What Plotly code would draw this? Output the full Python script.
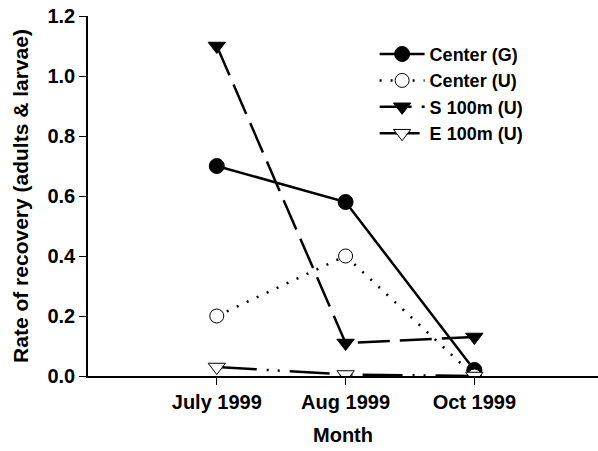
import plotly.graph_objects as go

months = ["July 1999", "Aug 1999", "Oct 1999"]
center_g = [0.70, 0.58, 0.02]
center_u = [0.20, 0.40, 0.00]
s100_u = [1.10, 0.11, 0.13]
e100_u = [0.03, 0.005, 0.00]

y_ticks = [0.0, 0.2, 0.4, 0.6, 0.8, 1.0, 1.2]

FONT = "Liberation Sans, Arial, sans-serif"

fig = go.Figure()

fig.add_trace(go.Scatter(
    x=months, y=center_g, name="<b>Center (G)</b>", mode="lines+markers",
    line=dict(color="black", width=2.5),
    marker=dict(symbol="circle", size=15, color="black",
                line=dict(color="black", width=1)),
))
fig.add_trace(go.Scatter(
    x=months, y=center_u, name="<b>Center (U)</b>", mode="lines+markers",
    line=dict(color="black", width=2.5, dash="2px,9px"),
    marker=dict(symbol="circle", size=14, color="white",
                line=dict(color="black", width=1)),
))
fig.add_trace(go.Scatter(
    x=months, y=s100_u, name="<b>S 100m (U)</b>", mode="lines+markers",
    line=dict(color="black", width=2.5, dash="32px,10px"),
    marker=dict(symbol="triangle-down", size=15, color="black",
                line=dict(color="black", width=1)),
))
fig.add_trace(go.Scatter(
    x=months, y=e100_u, name="<b>E 100m (U)</b>", mode="lines+markers",
    line=dict(color="black", width=2.5, dash="40px,10px,2px,9px,2px,10px"),
    marker=dict(symbol="triangle-down", size=15, color="white",
                line=dict(color="black", width=1)),
))

fig.update_layout(
    width=598, height=451,
    margin=dict(l=88, r=0, t=16, b=75),
    paper_bgcolor="white", plot_bgcolor="white",
    font=dict(family=FONT, color="black", size=18),
    showlegend=True,
    legend=dict(x=0.562, y=0.945, xanchor="left", yanchor="top",
                bgcolor="rgba(0,0,0,0)", font=dict(size=18),
                itemwidth=45, tracegroupgap=0),
    xaxis=dict(
        type="category", range=[-1, 2.96],
        showline=True, linecolor="black", linewidth=1.5,
        ticks="outside", ticklen=7, tickcolor="black", tickwidth=1,
        showgrid=False, zeroline=False,
        tickfont=dict(size=20, family=FONT),
        tickvals=months, ticktext=["<b>%s</b>" % m for m in months],
        title=dict(text="<b>Month</b>", font=dict(size=20), standoff=16),
    ),
    yaxis=dict(
        range=[0, 1.2],
        showline=True, linecolor="black", linewidth=1.5,
        ticks="outside", ticklen=7, tickcolor="black", tickwidth=1,
        showgrid=False, zeroline=False,
        tickvals=y_ticks, ticktext=["<b>%.1f</b>" % v for v in y_ticks],
        tickfont=dict(size=20, family=FONT),
        title=dict(text="<b>Rate of recovery (adults &amp; larvae)</b>",
                   font=dict(size=21), standoff=13),
    ),
)

fig.write_html("out.html")
